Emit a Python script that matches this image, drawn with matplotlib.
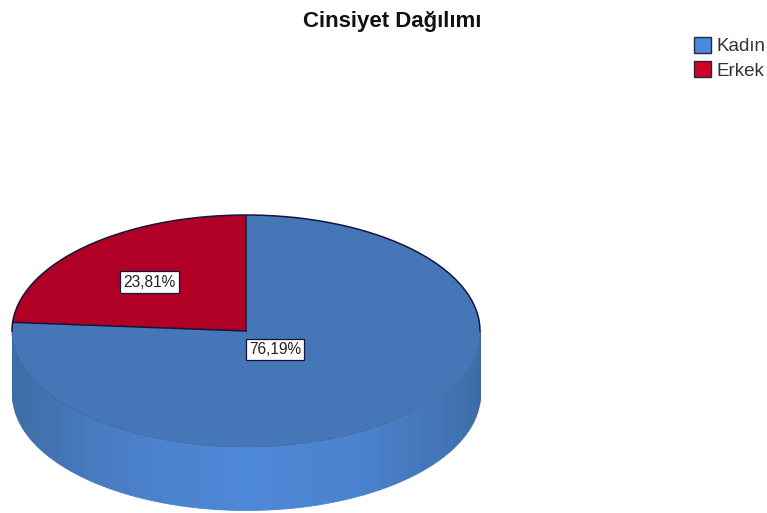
#!/usr/bin/env python3
"""Cinsiyet Dagilimi: SPSS style 3D pie chart."""

import numpy as np
import matplotlib
matplotlib.use("Agg")
import matplotlib.pyplot as plt
from matplotlib.colors import LinearSegmentedColormap
from matplotlib.patches import Patch

plt.rcParams["font.family"] = ["Liberation Sans", "DejaVu Sans"]

# data
categories = ["Kadın", "Erkek"]
shares = [76.19, 23.81]
share_labels = ["76,19%", "23,81%"]
chart_title = "Cinsiyet Dağılımı"

# styling
W, H = 767, 513
CX, CY = 246, 331       # centre of the top ellipse, pixels
RX, RY = 234, 116       # ellipse radii, pixels
DEPTH = 63 / RY         # side height in axis units
TOP_BLUE = "#4577b8"
LEGEND_BLUE = "#4a8be0"
RED = "#b00026"
LEGEND_RED = "#d0002c"
EDGE = "#14143c"
TEXT = "#222222"

fig = plt.figure(figsize=(W / 100, H / 100), dpi=100, facecolor="white")
ax = fig.add_axes([(CX - RX) / W, 1 - (CY + RY) / H, 2 * RX / W, 2 * RY / H])

# side of the cylinder, front half only, as vertical bands
side_cmap = LinearSegmentedColormap.from_list(
    "side", ["#3d6ba4", "#4272b0", "#4a80c8", "#4d88d8", "#4a82cc", "#4274b4", "#3c6aa2"]
)
edges = np.linspace(np.pi, 2 * np.pi, 40)
for i in range(len(edges) - 1):
    th = np.linspace(edges[i], edges[i + 1], 6)
    col = side_cmap(i / (len(edges) - 2))
    ax.fill_between(
        np.cos(th), np.sin(th), np.sin(th) - DEPTH,
        facecolor=col, edgecolor=col, lw=0.6, clip_on=False, zorder=1,
    )

# top face
wedges, _ = ax.pie(
    shares, colors=[TOP_BLUE, RED], startangle=90, counterclock=False,
    radius=1, wedgeprops={"linewidth": 0},
)
for w in wedges:
    w.set_zorder(2)
    w.set_clip_on(False)

# outlines: back rim, silhouette and the red slice
th = np.linspace(0, np.pi, 200)
ax.plot(np.cos(th), np.sin(th), color=EDGE, lw=1.1, clip_on=False, zorder=4)
ang = np.radians(90 + shares[1] / 100 * 360)
ax.plot([0, 0], [0, 1], color=EDGE, lw=1.1, zorder=4)
ax.plot([0, np.cos(ang)], [0, np.sin(ang)], color=EDGE, lw=1.1, zorder=4)
th = np.linspace(np.pi, 2 * np.pi, 200)
ax.plot(np.cos(th), np.sin(th), color="#3d6aa6", lw=0.7, clip_on=False, zorder=3)

ax.set_aspect("auto")
ax.set_xlim(-1, 1)
ax.set_ylim(-1, 1)

# value labels, at each slice's mid angle
label_dist = [0.19, 0.60]
start = 0.0
for share, text, dist in zip(shares, share_labels, label_dist):
    mid = np.radians(90 - (start + share / 2) / 100 * 360)
    ax.annotate(
        text, (dist * np.cos(mid), dist * np.sin(mid)),
        xytext=(-0.7, -1.5), textcoords="offset points", ha="center", va="center",
        fontsize=11.2, color=TEXT, zorder=5,
        bbox={"boxstyle": "square,pad=0.2", "fc": "white", "ec": EDGE, "lw": 0.9},
    )
    start += share

fig.text(392 / W, 1 - 21 / H, chart_title, ha="center", va="center",
         fontsize=16, fontweight="bold", color="#111111")

handles = [
    Patch(facecolor=LEGEND_BLUE, edgecolor="#222a3a", lw=1),
    Patch(facecolor=LEGEND_RED, edgecolor="#222a3a", lw=1),
]
fig.legend(
    handles, categories, loc="upper left", bbox_to_anchor=(694 / W, 1 - 37 / H),
    frameon=False, fontsize=13.5, labelcolor="#333333", borderpad=0, borderaxespad=0,
    handlelength=0.9, handleheight=0.9, handletextpad=0.3, labelspacing=0.32,
)

fig.savefig("out.png", dpi=100)
